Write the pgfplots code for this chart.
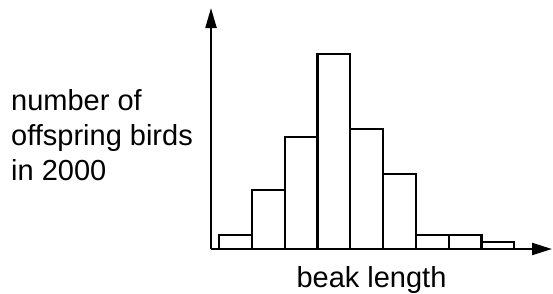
\documentclass[border=0pt]{standalone}
\usepackage{pgfplots}
\pgfplotsset{compat=1.18}
\usepackage{fontspec}
\setmainfont{Liberation Sans}
\usetikzlibrary{arrows.meta}
\begin{document}
\begin{tikzpicture}[x=1pt,y=1pt]
\useasboundingbox (0,0) rectangle (553,293);
\begin{axis}[
  at={(211pt,44pt)}, anchor=origin,
  scale only axis, width=341pt, height=241pt,
  xmin=0, xmax=341, ymin=0, ymax=241,
  axis lines=left,
  xtick=\empty, ytick=\empty,
  clip=false,
  axis line style={line width=2.2pt, black},
  every outer x axis line/.append style={-{Triangle[length=20pt,width=12pt]}},
  every outer y axis line/.append style={-{Triangle[length=20pt,width=11pt]}},
]
\addplot[ybar interval, draw=black, fill=white, line width=2.2pt] coordinates {
  (8,14) (40.8,59) (73.6,112) (106.4,195) (139.2,120) (172,75) (204.8,14) (237.6,14) (270.4,7) (303.2,7)
};
\end{axis}
\fontsize{29}{35}\selectfont
\node[anchor=base west, inner sep=0] at (11,183) {number of};
\node[anchor=base west, inner sep=0] at (11,148) {offspring birds};
\node[anchor=base west, inner sep=0] at (11,113) {in 2000};
\node[anchor=base, inner sep=0] at (371.5,6) {beak length};
\end{tikzpicture}
\end{document}
